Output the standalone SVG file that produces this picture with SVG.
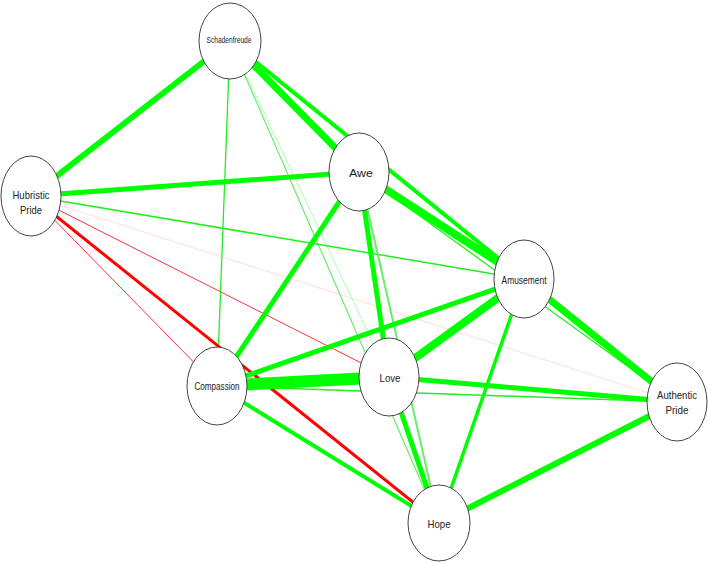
<svg xmlns="http://www.w3.org/2000/svg" width="708" height="563" viewBox="0 0 708 563">
<style>
.node ellipse{fill:#fff;stroke:#444;stroke-width:1}
.node text{font-family:"Liberation Sans",Arial,sans-serif;font-size:11.5px;fill:#222;text-anchor:middle}
.e{fill:none;stroke-linecap:butt}
.g{stroke:#00ff00}
.gt{stroke:#22ee22}
.gl{stroke:#66ee66}
.gp{stroke:#aaffaa}
.r{stroke:#ff0000}
.rt{stroke:#ff3333}
.rp{stroke:#ffe4e4}
</style>
<rect width="708" height="563" fill="#fff"/>
<g id="edges">
<line class="e rp" x1="31" y1="196" x2="677" y2="402" stroke-width="1.3"/>
<line class="e gp" x1="230" y1="41" x2="389" y2="377" stroke-width="1"/>
<line class="e gl" x1="230" y1="41" x2="439" y2="523" stroke-width="1.2"/>
<line class="e gt" x1="230" y1="41" x2="217" y2="386" stroke-width="1.3"/>
<line class="e gt" x1="31" y1="196" x2="524" y2="279" stroke-width="1.5"/>
<line class="e gt" x1="359" y1="172" x2="677" y2="402" stroke-width="1.3"/>
<line class="e gt" x1="217" y1="386" x2="677" y2="402" stroke-width="1.5"/>
<line class="e rt" x1="31" y1="196" x2="389" y2="377" stroke-width="1"/>
<line class="e rt" x1="31" y1="196" x2="217" y2="386" stroke-width="1"/>
<line class="e r" x1="31" y1="196" x2="439" y2="523" stroke-width="3"/>
<line class="e gl" x1="359" y1="172" x2="439" y2="523" stroke-width="2"/>
<line class="e g" x1="230" y1="41" x2="31" y2="196" stroke-width="6"/>
<line class="e g" x1="230" y1="41" x2="359" y2="172" stroke-width="7"/>
<line class="e g" x1="230" y1="41" x2="524" y2="279" stroke-width="4"/>
<line class="e g" x1="31" y1="196" x2="359" y2="172" stroke-width="5"/>
<line class="e g" x1="359" y1="172" x2="217" y2="386" stroke-width="5"/>
<line class="e g" x1="359" y1="172" x2="524" y2="279" stroke-width="8"/>
<line class="e g" x1="359" y1="172" x2="389" y2="377" stroke-width="5"/>
<line class="e g" x1="524" y1="279" x2="217" y2="386" stroke-width="5"/>
<line class="e g" x1="524" y1="279" x2="389" y2="377" stroke-width="8"/>
<line class="e g" x1="524" y1="279" x2="439" y2="523" stroke-width="3.5"/>
<line class="e g" x1="524" y1="279" x2="677" y2="402" stroke-width="7"/>
<line class="e g" x1="217" y1="386" x2="389" y2="377" stroke-width="12"/>
<line class="e g" x1="217" y1="386" x2="439" y2="523" stroke-width="4"/>
<line class="e g" x1="389" y1="377" x2="677" y2="402" stroke-width="5"/>
<line class="e g" x1="389" y1="377" x2="439" y2="523" stroke-width="5"/>
<line class="e g" x1="439" y1="523" x2="677" y2="402" stroke-width="6"/>
</g>
<g id="schadenfreude" class="node"><ellipse cx="230" cy="41" rx="31" ry="38"/><text x="229" y="43" style="font-size:9px" textLength="45" lengthAdjust="spacingAndGlyphs">Schadenfreude</text></g>
<g id="hubristic-pride" class="node"><ellipse cx="31" cy="196" rx="30" ry="40"/><text x="31" y="199" textLength="37" lengthAdjust="spacingAndGlyphs">Hubristic</text><text x="31" y="214" textLength="22" lengthAdjust="spacingAndGlyphs">Pride</text></g>
<g id="awe" class="node"><ellipse cx="359" cy="172" rx="30" ry="39"/><text x="361" y="177" textLength="24" lengthAdjust="spacingAndGlyphs">Awe</text></g>
<g id="amusement" class="node"><ellipse cx="524" cy="279" rx="30" ry="39"/><text x="524" y="284" textLength="45" lengthAdjust="spacingAndGlyphs">Amusement</text></g>
<g id="compassion" class="node"><ellipse cx="217" cy="386" rx="30" ry="39"/><text x="217" y="390" textLength="45" lengthAdjust="spacingAndGlyphs">Compassion</text></g>
<g id="love" class="node"><ellipse cx="389" cy="377" rx="30" ry="39"/><text x="390" y="382" textLength="21" lengthAdjust="spacingAndGlyphs">Love</text></g>
<g id="authentic-pride" class="node"><ellipse cx="677" cy="402" rx="30" ry="39"/><text x="677" y="399" textLength="40" lengthAdjust="spacingAndGlyphs">Authentic</text><text x="677" y="414" textLength="23" lengthAdjust="spacingAndGlyphs">Pride</text></g>
<g id="hope" class="node"><ellipse cx="439" cy="523" rx="31" ry="38"/><text x="439" y="528" textLength="23" lengthAdjust="spacingAndGlyphs">Hope</text></g>
</svg>
